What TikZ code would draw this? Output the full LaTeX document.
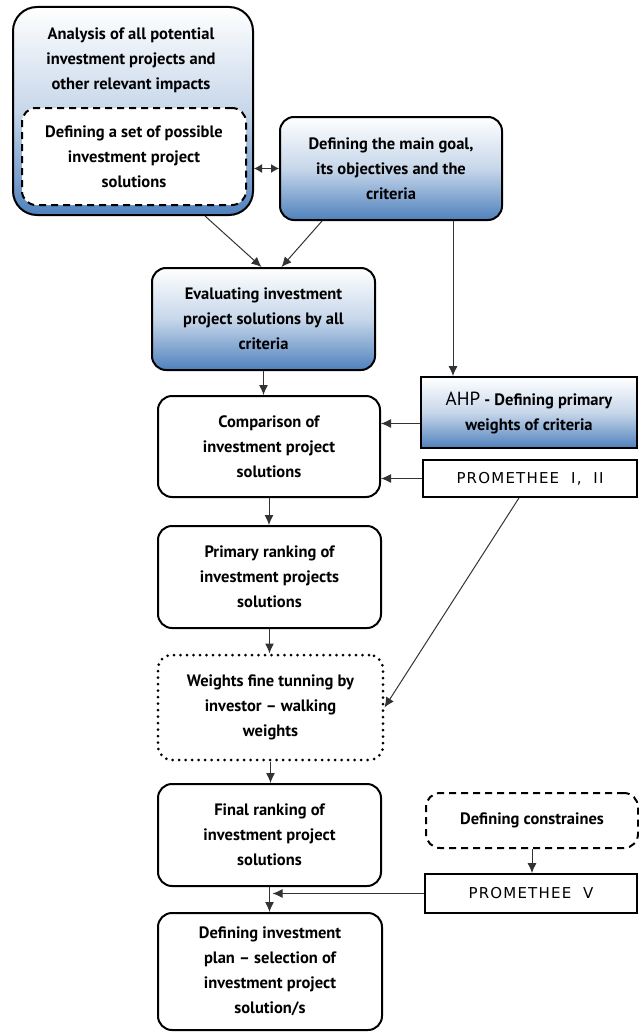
\documentclass[tikz,border=0pt]{standalone}
\usepackage{fontspec}
\setmainfont{PT Sans}
\newfontfamily\promfont[LetterSpace=8]{DejaVu Sans}
\usetikzlibrary{arrows.meta,calc}

\definecolor{boxblue}{RGB}{79,129,189}

\tikzset{
  boxfont/.style={font=\bfseries\fontsize{16.5}{25}\selectfont},
  roundbox/.style={draw, line width=2pt, rounded corners=14pt, align=center, inner sep=0pt, boxfont},
  bluebox/.style={roundbox, top color=white, bottom color=boxblue, middle color=boxblue!32},
  plainbox/.style={draw, line width=1.8pt, align=center, inner sep=0pt},
  dashbox/.style={dash pattern=on 7pt off 5pt},
  dotbox/.style={dash pattern=on 0pt off 6.5pt, line cap=round, line width=3pt},
  arr/.style={-{Latex[length=10pt,width=9pt]}, line width=1pt, black!80},
  twoarr/.style={{Latex[length=8pt,width=9pt]}-{Latex[length=8pt,width=9pt]}, line width=1pt, black!80},
}

\begin{document}
\begin{tikzpicture}[x=1pt,y=-1pt]
        \useasboundingbox (0,0) rectangle (638,1033);

        \node[bluebox, rounded corners=24pt, minimum width=240pt, minimum height=208pt] (analysis) at (133,111) {};
        \node[boxfont, align=center, inner sep=0pt] (analysistitle) at (131,60) {Analysis of all potential\\investment projects and\\other relevant impacts};
        \node[roundbox, dashbox, fill=white, minimum width=224pt, minimum height=97pt] (options) at (134,156.5) {Defining a set of possible\\investment project\\solutions};

        \node[bluebox, minimum width=222pt, minimum height=103pt] (goal) at (391,168.5) {Defining the main goal,\\its objectives and the\\criteria};
        \node[bluebox, minimum width=223pt, minimum height=102pt] (evaluate) at (263.5,319) {Evaluating investment\\project solutions by all\\criteria};
        \node[roundbox, minimum width=222pt, minimum height=101pt] (compare) at (269,446.5) {Comparison of\\investment project\\solutions};

        \node[plainbox, boxfont, top color=white, bottom color=boxblue, middle color=boxblue!32, minimum width=216pt, minimum height=71pt] (ahp) at (529,412.5) {{\mdseries\fontsize{19}{25}\selectfont AHP} - Defining primary\\weights of criteria};
        \node[plainbox, fill=white, minimum width=214pt, minimum height=37pt, font=\promfont\fontsize{15}{16}\selectfont] (prom12) at (530,478.5) {PROMETHEE~ I, ~II};

        \node[roundbox, minimum width=223pt, minimum height=102pt] (primary) at (269.5,577) {Primary ranking of\\investment projects\\solutions};
        \node[roundbox, dotbox, minimum width=225pt, minimum height=105pt] (tuning) at (270.5,707.5) {Weights fine tunning by\\investor -- walking\\weights};
        \node[roundbox, minimum width=223pt, minimum height=102pt] (final) at (269.5,835) {Final ranking of\\investment project\\solutions};
        \node[roundbox, minimum width=224pt, minimum height=117pt] (plan) at (270,971.5) {Defining investment\\plan -- selection of\\investment project\\solution/s};

        \node[roundbox, dashbox, minimum width=212pt, minimum height=55pt] (constr) at (532,820.5) {Defining constraines};
        \node[plainbox, fill=white, minimum width=212pt, minimum height=39pt, font=\promfont\fontsize{15}{16}\selectfont] (prom5) at (531,893.5) {PROMETHEE~ V};

        \draw[twoarr] (goal.west) -- (goal.west -| analysis.east);

        \draw[arr] ($(analysis.south)+(72,0)$) -- ($(evaluate.north)+(-2,0)$);
        \draw[arr] ($(goal.south)+(-69,0)$) -- ($(evaluate.north)+(18,0)$);
        \draw[arr] ($(goal.south)+(62,0)$) -- ($(ahp.north)+(-76,0)$);
        \draw[arr] (evaluate.south) -- (evaluate.south |- compare.north);
        \draw[arr] ($(ahp.west)+(0,11)$) coordinate (ahpout) -- (ahpout -| compare.east);
        \draw[arr] (prom12.west) -- (prom12.west -| compare.east);
        \draw[arr] (compare.south) -- (compare.south |- primary.north);
        \draw[arr] ($(prom12.south)+(-11,0)$) -- (tuning.east);
        \draw[arr] (primary.south) -- (primary.south |- tuning.north);
        \draw[arr] (tuning.south) -- (tuning.south |- final.north);
        \draw[arr] (final.south) -- (final.south |- plan.north);
        \draw[arr] (constr.south) -- (constr.south |- prom5.north);
        \draw[arr] (prom5.west) -- ($(prom5.west -| final.south)+(3,0)$);
\end{tikzpicture}
\end{document}
